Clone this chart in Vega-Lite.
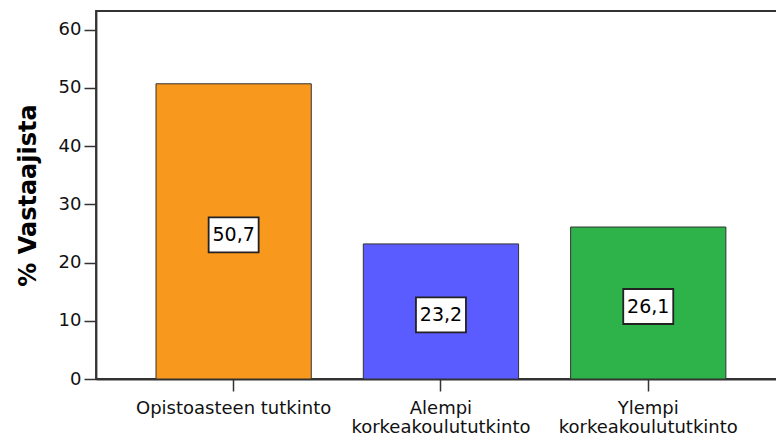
{
  "$schema": "https://vega.github.io/schema/vega-lite/v6.json",
  "width": 681,
  "height": 368,
  "autosize": "none",
  "padding": {"left": 96, "top": 11, "right": 0, "bottom": 63},
  "background": "white",
  "config": {
    "font": "DejaVu Sans",
    "view": {"stroke": "#333333", "strokeWidth": 1.8}
  },
  "data": {
    "values": [
      {"koulutus": "Opistoasteen tutkinto", "osuus": 50.7, "teksti": "50,7"},
      {"koulutus": "Alempi\nkorkeakoulututkinto", "osuus": 23.2, "teksti": "23,2"},
      {"koulutus": "Ylempi\nkorkeakoulututkinto", "osuus": 26.1, "teksti": "26,1"}
    ]
  },
  "layer": [
    {
      "mark": {"type": "bar", "stroke": "#333333", "strokeWidth": 1},
      "encoding": {
        "x": {
          "field": "koulutus",
          "type": "nominal",
          "sort": null,
          "scale": {"paddingInner": 0.251, "paddingOuter": 0.268, "align": 0.54},
          "axis": {
            "title": null,
            "labelAngle": 0,
            "labelExpr": "split(datum.label, '\\n')",
            "labelLineHeight": 19,
            "labelFontSize": 18,
            "labelColor": "#111111",
            "labelPadding": 8,
            "labelLimit": 0,
            "tickSize": 12,
            "tickColor": "#333333",
            "tickWidth": 1.5,
            "domainColor": "#333333",
            "domainWidth": 1.8
          }
        },
        "y": {
          "field": "osuus",
          "type": "quantitative",
          "scale": {"domain": [0, 63.2], "nice": false},
          "axis": {
            "title": "% Vastaajista",
            "titleFontSize": 24,
            "titleFontWeight": "bold",
            "titleColor": "#000000",
            "titlePadding": 18,
            "values": [0, 10, 20, 30, 40, 50, 60],
            "grid": false,
            "labelFontSize": 18,
            "labelColor": "#111111",
            "labelPadding": 3,
            "tickSize": 12,
            "tickColor": "#333333",
            "tickWidth": 1.5,
            "domainColor": "#333333",
            "domainWidth": 1.8
          }
        },
        "color": {
          "field": "koulutus",
          "type": "nominal",
          "scale": {
            "domain": ["Opistoasteen tutkinto", "Alempi\nkorkeakoulututkinto", "Ylempi\nkorkeakoulututkinto"],
            "range": ["#F8981D", "#5B5CFF", "#2DB34A"]
          },
          "legend": null
        }
      }
    },
    {
      "layer": [
        {
          "mark": {
            "type": "point",
            "shape": "M-1,-0.7L1,-0.7L1,0.7L-1,0.7Z",
            "size": 2500,
            "filled": true,
            "fill": "white",
            "opacity": 1,
            "stroke": "#222222",
            "strokeWidth": 1.8,
            "yOffset": 3.5
          },
          "encoding": {
            "x": {"field": "koulutus", "type": "nominal", "sort": null},
            "y": {"field": "osuus", "type": "quantitative", "scale": {"domain": [0, 126.4], "nice": false}, "axis": null}
          }
        },
        {
          "mark": {"type": "text", "fontSize": 19, "color": "#000000", "baseline": "middle", "align": "center", "yOffset": 3.5},
          "encoding": {
            "x": {"field": "koulutus", "type": "nominal", "sort": null},
            "y": {"field": "osuus", "type": "quantitative", "scale": {"domain": [0, 126.4], "nice": false}, "axis": null},
            "text": {"field": "teksti", "type": "nominal"}
          }
        }
      ]
    }
  ],
  "resolve": {"scale": {"y": "independent"}}
}
